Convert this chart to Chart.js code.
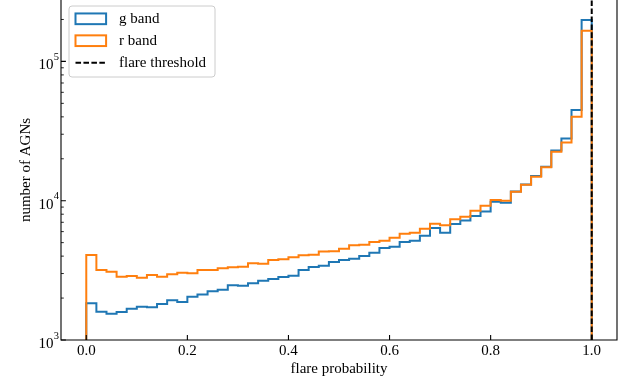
<!DOCTYPE html>
<html><head><meta charset="utf-8">
<script src="https://cdn.jsdelivr.net/npm/chart.js@4.4.1/dist/chart.umd.min.js"></script>
<style>html,body{margin:0;padding:0;background:#fff;}#wrap{width:639px;height:381px;position:relative;}</style>
</head><body><div id="wrap"><canvas id="c" width="639" height="381"></canvas></div>
<script>
// ---- data ----
const binStarts = [0.00,0.02,0.04,0.06,0.08,0.10,0.12,0.14,0.16,0.18,
                   0.20,0.22,0.24,0.26,0.28,0.30,0.32,0.34,0.36,0.38,
                   0.40,0.42,0.44,0.46,0.48,0.50,0.52,0.54,0.56,0.58,
                   0.60,0.62,0.64,0.66,0.68,0.70,0.72,0.74,0.76,0.78,
                   0.80,0.82,0.84,0.86,0.88,0.90,0.92,0.94,0.96,0.98];
const histEnd = 1.0;
const gBand = [1834,1597,1545,1589,1678,1734,1717,1813,1928,1874,
               2046,2121,2240,2297,2470,2454,2553,2665,2741,2834,
               2895,3181,3342,3410,3630,3752,3834,4009,4234,4576,
               4676,5051,5161,5607,6368,5893,6804,7210,7768,8368,
               9835,9674,11650,13070,15040,17540,22930,27960,44780,198300];
const rBand = [4075,3181,3093,2847,2880,2801,2929,2847,2963,3042,
               3012,3181,3181,3272,3327,3360,3553,3530,3752,3796,
               3924,4056,4097,4319,4341,4524,4784,4832,5051,5161,
               5425,5796,5893,6295,6838,6659,7354,7677,8465,9192,
               10116,9983,11585,13007,14870,17370,22480,26170,40090,166200];
const thresholdX = 1.0;
const xTicks = [0.0,0.2,0.4,0.6,0.8,1.0];
const xTickLabels = ['0.0','0.2','0.4','0.6','0.8','1.0'];
const yMajorTicks = [1e3,1e4,1e5];
const yTickExponents = ['3','4','5'];
const yMinorTicks = [2e3,3e3,4e3,5e3,6e3,7e3,8e3,9e3,2e4,3e4,4e4,5e4,6e4,7e4,8e4,9e4,2e5];
const xRange = [-0.05, 1.05];
const yRange = [1000, 276000];
const seriesNames = ['g band','r band','flare threshold'];
const colors = ['#1f77b4','#ff7f0e','#000000'];

const FONT = '"Liberation Serif","Times New Roman",serif';
const DASH = [5.55, 2.4];

function stepPoints(vals){
  const pts = [{x: binStarts[0], y: yRange[0]}];
  vals.forEach((v,i)=>pts.push({x: binStarts[i], y: v}));
  pts.push({x: histEnd, y: yRange[0]});
  return pts;
}

const decor = {
  id: 'decor',
  afterDraw(chart){
    const {ctx, chartArea: a, scales: {x, y}} = chart;
    ctx.save();
    ctx.strokeStyle = '#000';
    // spines
    ctx.lineWidth = 1.1;
    ctx.beginPath();
    ctx.moveTo(a.left, a.top); ctx.lineTo(a.left, a.bottom);
    ctx.lineTo(a.right, a.bottom); ctx.lineTo(a.right, a.top);
    ctx.stroke();
    // ticks (inward)
    ctx.beginPath();
    xTicks.forEach(v=>{ const p = x.getPixelForValue(v); ctx.moveTo(p, a.bottom); ctx.lineTo(p, a.bottom-4.9); });
    yMajorTicks.forEach(v=>{ const p = y.getPixelForValue(v); ctx.moveTo(a.left, p); ctx.lineTo(a.left+4.9, p); });
    ctx.stroke();
    ctx.lineWidth = 0.85;
    ctx.beginPath();
    yMinorTicks.forEach(v=>{ const p = y.getPixelForValue(v); ctx.moveTo(a.left, p); ctx.lineTo(a.left+2.8, p); });
    ctx.stroke();
    ctx.fillStyle = '#000';
    // x tick labels
    ctx.font = '15px ' + FONT; ctx.textAlign = 'center'; ctx.textBaseline = 'alphabetic';
    xTicks.forEach((v,i)=>{ ctx.fillText(xTickLabels[i], x.getPixelForValue(v), a.bottom + 15); });
    // y tick labels 10^n
    yMajorTicks.forEach((v,i)=>{
      const p = y.getPixelForValue(v);
      ctx.font = '15px ' + FONT; ctx.textAlign = 'right'; ctx.textBaseline = 'alphabetic';
      ctx.fillText('10', 53.5, p + 8);
      ctx.font = '10.5px ' + FONT; ctx.textAlign = 'left';
      ctx.fillText(yTickExponents[i], 53.8, p - 1.5);
    });
    // legend
    const lx = 69, ly = 6, lw = 146, lh = 71, r = 3;
    ctx.beginPath();
    ctx.moveTo(lx+r, ly); ctx.lineTo(lx+lw-r, ly); ctx.arcTo(lx+lw, ly, lx+lw, ly+r, r);
    ctx.lineTo(lx+lw, ly+lh-r); ctx.arcTo(lx+lw, ly+lh, lx+lw-r, ly+lh, r);
    ctx.lineTo(lx+r, ly+lh); ctx.arcTo(lx, ly+lh, lx, ly+lh-r, r);
    ctx.lineTo(lx, ly+r); ctx.arcTo(lx, ly, lx+r, ly, r);
    ctx.closePath();
    ctx.fillStyle = 'rgba(255,255,255,0.8)'; ctx.fill();
    ctx.strokeStyle = '#cccccc'; ctx.lineWidth = 1; ctx.stroke();
    const rows = [18.8, 40.7, 62.7];
    ctx.font = '15px ' + FONT; ctx.textAlign = 'left'; ctx.textBaseline = 'middle';
    rows.forEach((ry,i)=>{
      ctx.strokeStyle = colors[i]; ctx.lineWidth = 2;
      if (i < 2) {
        ctx.setLineDash([]);
        ctx.strokeRect(75.5, ry-5.35, 30.6, 10.7);
      } else {
        ctx.setLineDash(DASH);
        ctx.beginPath(); ctx.moveTo(75.5, ry); ctx.lineTo(106.1, ry); ctx.stroke();
        ctx.setLineDash([]);
      }
      ctx.fillStyle = '#000';
      ctx.fillText(seriesNames[i], 119, ry+0.5);
    });
    ctx.restore();
  }
};

new Chart(document.getElementById('c'), {
  type: 'line',
  data: {
    datasets: [
      {label: seriesNames[0], data: stepPoints(gBand), borderColor: colors[0], borderWidth: 2,
       pointRadius: 0, stepped: true, fill: false, order: 2},
      {label: seriesNames[1], data: stepPoints(rBand), borderColor: colors[1], borderWidth: 2,
       pointRadius: 0, stepped: true, fill: false, order: 1},
      {label: seriesNames[2], data: [{x: thresholdX, y: yRange[0]}, {x: thresholdX, y: yRange[1]}],
       borderColor: colors[2], borderWidth: 2, borderDash: DASH, pointRadius: 0, fill: false, order: 0}
    ]
  },
  options: {
    responsive: false, animation: false, devicePixelRatio: 1,
    layout: {padding: {left: 0, right: 22, top: 0, bottom: 0}},
    plugins: {legend: {display: false}, tooltip: {enabled: false}},
    scales: {
      x: {
        type: 'linear', min: xRange[0], max: xRange[1],
        grid: {display: false}, border: {display: false},
        afterBuildTicks: s => { s.ticks = xTicks.map(v => ({value: v})); },
        afterFit: s => { s.height = 41; },
        ticks: {display: false},
        title: {display: true, text: 'flare probability', color: '#000', font: {family: FONT, size: 15}, padding: 3}
      },
      y: {
        type: 'logarithmic', min: yRange[0], max: yRange[1],
        grid: {display: false}, border: {display: false},
        ticks: {display: false},
        afterFit: s => { s.width = 61; },
        title: {display: true, text: 'number of AGNs', color: '#000', font: {family: FONT, size: 15}, padding: 17}
      }
    }
  },
  plugins: [decor]
});
</script></body></html>
